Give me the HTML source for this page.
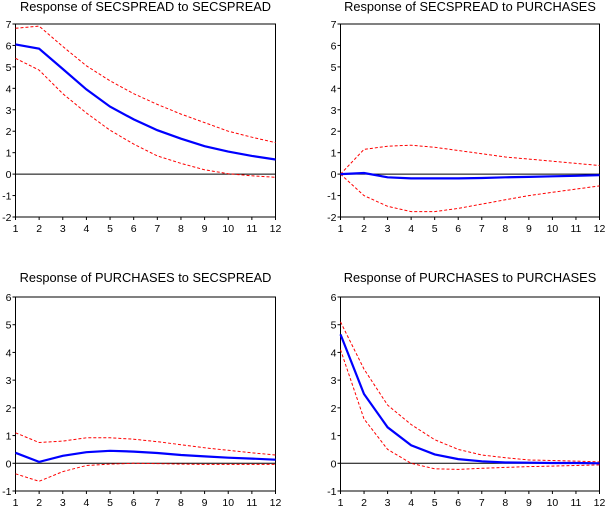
<!DOCTYPE html>
<html><head><meta charset="utf-8"><style>
html,body{margin:0;padding:0;background:#fff;width:605px;height:507px;overflow:hidden}
svg{display:block;font-family:"Liberation Sans",Arial,sans-serif}
</style></head><body>
<svg id="c" width="605" height="507"></svg>
<script>
const periods=[1,2,3,4,5,6,7,8,9,10,11,12];
const tlMean=[6.05,5.85,4.9,3.95,3.15,2.55,2.05,1.65,1.3,1.05,0.85,0.68];
const tlUpper=[6.8,6.9,5.95,5.05,4.35,3.75,3.25,2.8,2.4,2.0,1.72,1.47];
const tlLower=[5.4,4.85,3.75,2.85,2.05,1.4,0.85,0.5,0.2,0.02,-0.08,-0.15];
const trMean=[0,0.05,-0.15,-0.2,-0.2,-0.2,-0.18,-0.15,-0.13,-0.1,-0.08,-0.05];
const trUpper=[0,1.15,1.3,1.35,1.25,1.1,0.95,0.8,0.7,0.6,0.5,0.4];
const trLower=[0,-1.0,-1.5,-1.75,-1.75,-1.6,-1.4,-1.2,-1.0,-0.85,-0.7,-0.55];
const blMean=[0.38,0.05,0.27,0.4,0.45,0.42,0.37,0.3,0.25,0.2,0.17,0.13];
const blUpper=[1.1,0.75,0.8,0.92,0.92,0.87,0.78,0.67,0.56,0.47,0.38,0.3];
const blLower=[-0.38,-0.65,-0.3,-0.08,-0.03,0,-0.01,-0.03,-0.04,-0.04,-0.04,-0.04];
const brMean=[4.65,2.5,1.3,0.65,0.32,0.15,0.07,0.03,0.02,0.01,0.01,0];
const brUpper=[5.1,3.4,2.1,1.4,0.85,0.5,0.3,0.2,0.12,0.1,0.08,0.05];
const brLower=[4.1,1.6,0.5,0.0,-0.2,-0.22,-0.18,-0.15,-0.12,-0.1,-0.08,-0.06];
const topTicks=[-2,-1,0,1,2,3,4,5,6,7];
const botTicks=[-1,0,1,2,3,4,5,6];
const titles=["Response of SECSPREAD to SECSPREAD","Response of SECSPREAD to PURCHASES","Response of PURCHASES to SECSPREAD","Response of PURCHASES to PURCHASES"];
const NS="http://www.w3.org/2000/svg";
const svg=document.getElementById('c');
function mk(t,a,p){const e=document.createElementNS(NS,t);for(const k in a)e.setAttribute(k,a[k]);(p||svg).appendChild(e);return e;}
const panels=[
 {x0:15.5,x1:275.5,y0:24,y1:217,ticks:topTicks,m:tlMean,u:tlUpper,l:tlLower,ty:11,name:'secspread-to-secspread'},
 {x0:340.5,x1:599.5,y0:24,y1:217,ticks:topTicks,m:trMean,u:trUpper,l:trLower,ty:11,name:'secspread-to-purchases'},
 {x0:15.5,x1:275.5,y0:297,y1:491,ticks:botTicks,m:blMean,u:blUpper,l:blLower,ty:282,name:'purchases-to-secspread'},
 {x0:340.5,x1:599.5,y0:297,y1:491,ticks:botTicks,m:brMean,u:brUpper,l:brLower,ty:282,name:'purchases-to-purchases'}];
panels.forEach((p,i)=>{
 const g=mk('g',{});
 
 
 const ymin=p.ticks[0],ymax=p.ticks[p.ticks.length-1];
 const X=v=>p.x0+(v-1)*(p.x1-p.x0)/11;
 const Y=v=>p.y1-(v-ymin)*(p.y1-p.y0)/(ymax-ymin);
 const t=mk('text',{x:(p.x0+p.x1)/2,y:p.ty,'text-anchor':'middle','font-size':12.8},g);t.textContent=titles[i];
 
 const r=mk('rect',{x:p.x0,y:p.y0,width:p.x1-p.x0,height:p.y1-p.y0,fill:'none',stroke:'#000','stroke-width':1},g);
 
 p.ticks.forEach(v=>{
  mk('line',{x1:p.x0-3,x2:p.x0,y1:Y(v),y2:Y(v),stroke:'#000'},g);
  const tx=mk('text',{x:p.x0-4,y:Y(v)+4,'text-anchor':'end','font-size':10.5},g);tx.textContent=v;
  
 });
 periods.forEach(v=>{
  mk('line',{x1:X(v),x2:X(v),y1:p.y1,y2:p.y1+3,stroke:'#000'},g);
  const tx=mk('text',{x:X(v),y:p.y1+15,'text-anchor':'middle','font-size':10.5},g);tx.textContent=v;
  
 });
 const z=mk('line',{x1:p.x0,x2:p.x1,y1:Y(0),y2:Y(0),stroke:'#000','stroke-width':1},g);
 
 const pts=a=>a.map((v,k)=>X(periods[k]).toFixed(1)+','+Y(v).toFixed(1)).join(' ');
 const up=mk('polyline',{points:pts(p.u),fill:'none',stroke:'#f00','stroke-width':1,'stroke-dasharray':'3,2'},g);
 
 const lo=mk('polyline',{points:pts(p.l),fill:'none',stroke:'#f00','stroke-width':1,'stroke-dasharray':'3,2'},g);
 
 const mn=mk('polyline',{points:pts(p.m),fill:'none',stroke:'#00f','stroke-width':2.2},g);
 
});
</script>
</body></html>
